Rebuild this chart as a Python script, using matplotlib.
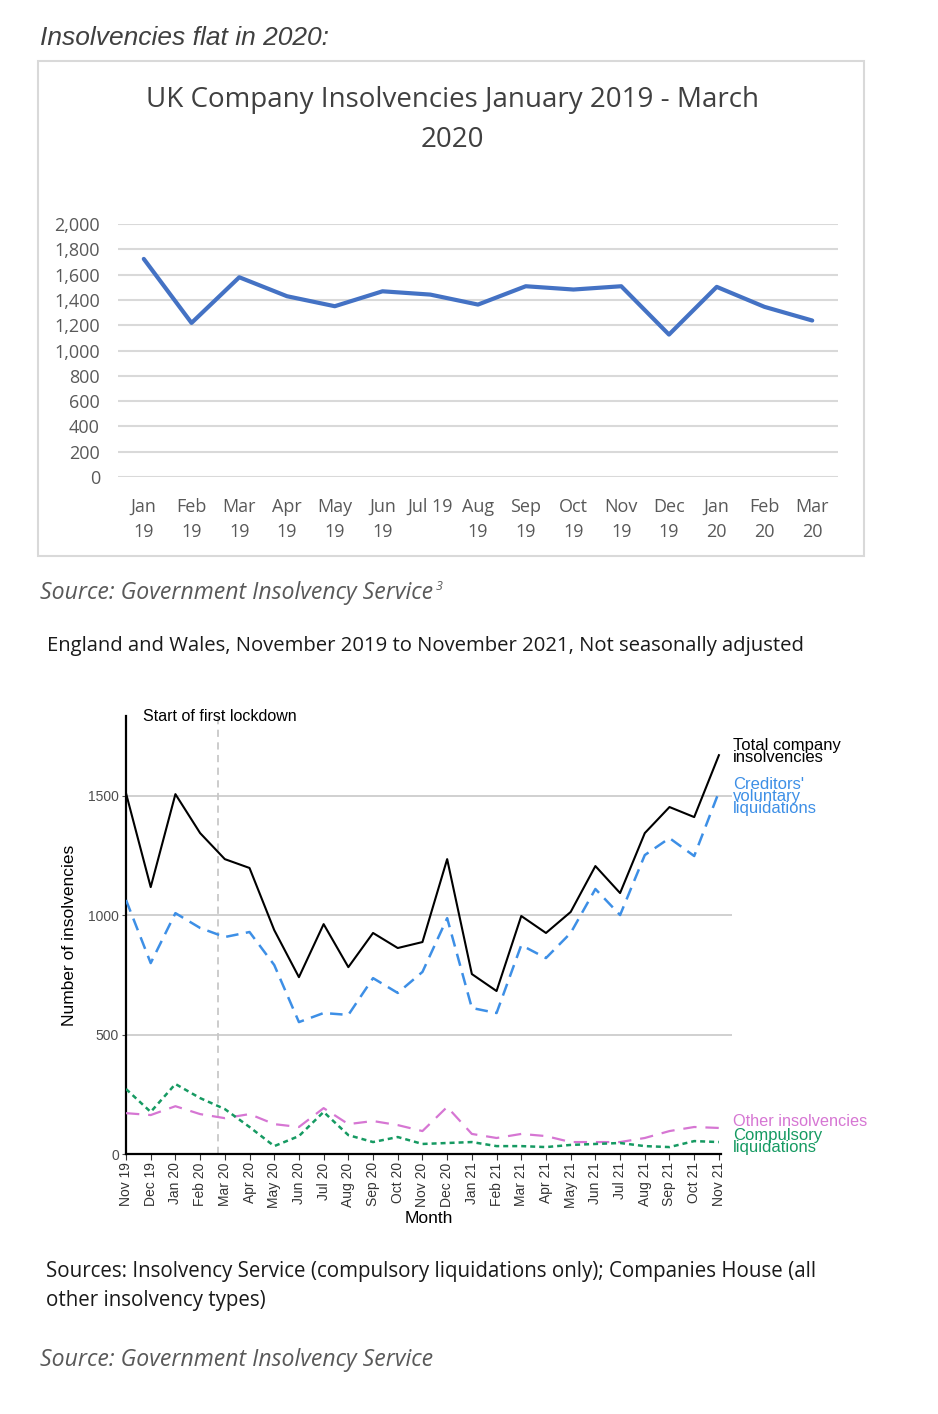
import matplotlib
matplotlib.use("Agg")
import matplotlib.pyplot as plt
from matplotlib.patches import Rectangle

# --- top chart data (UK company insolvencies, Jan 2019 - Mar 2020)
top_labels = ["Jan\n19", "Feb\n19", "Mar\n19", "Apr\n19", "May\n19", "Jun\n19", "Jul 19",
              "Aug\n19", "Sep\n19", "Oct\n19", "Nov\n19", "Dec\n19", "Jan\n20", "Feb\n20", "Mar\n20"]
top_values = [1724, 1218, 1579, 1429, 1350, 1468, 1442, 1363, 1508, 1482, 1508, 1126, 1503, 1345, 1237]

# --- bottom chart data (England and Wales, Nov 2019 - Nov 2021)
months = ["Nov 19", "Dec 19", "Jan 20", "Feb 20", "Mar 20", "Apr 20", "May 20", "Jun 20", "Jul 20",
          "Aug 20", "Sep 20", "Oct 20", "Nov 20", "Dec 20", "Jan 21", "Feb 21", "Mar 21", "Apr 21",
          "May 21", "Jun 21", "Jul 21", "Aug 21", "Sep 21", "Oct 21", "Nov 21"]
total = [1510, 1117, 1506, 1343, 1234, 1197, 937, 740, 962, 782, 925, 862, 887, 1234,
         753, 682, 996, 925, 1013, 1205, 1092, 1343, 1452, 1410, 1669]
cvl = [1063, 799, 1008, 946, 908, 929, 791, 552, 590, 582, 736, 674, 762, 987,
       611, 590, 874, 820, 925, 1109, 1000, 1251, 1322, 1247, 1515]
other = [171, 163, 200, 167, 150, 167, 125, 113, 192, 125, 138, 121, 96, 197,
         84, 67, 84, 75, 50, 50, 50, 67, 96, 113, 109]
compulsory = [272, 176, 293, 234, 188, 113, 33, 75, 176, 79, 50, 71, 42, 46,
              50, 33, 33, 29, 38, 42, 46, 33, 29, 54, 50]
lockdown_pos = 3.74

W, H = 938, 1414


def fx(px):
    return px / W


def fy(py):
    return 1 - py / H


fig = plt.figure(figsize=(W / 100, H / 100), dpi=100)
fig.patch.set_facecolor("white")

body = "Open Sans"
arial = "Liberation Sans"

fig.text(fx(40), fy(38), "Insolvencies flat in 2020:", family=arial, style="italic",
         fontsize=19, color="#404040", va="center", ha="left")

# frame around top chart
fig.add_artist(Rectangle((fx(38), fy(556)), fx(864) - fx(38), fy(61) - fy(556),
                         transform=fig.transFigure, fill=False, edgecolor="#d9d9d9", lw=1.5))

fig.text(fx(452), fy(120), "UK Company Insolvencies January 2019 - March\n2020", family=body,
         fontsize=20, color="#404040", ha="center", va="center", linespacing=1.55)

ax1 = fig.add_axes([fx(118), fy(477), fx(838) - fx(118), fy(224) - fy(477)])
x1 = list(range(len(top_values)))
ax1.plot(x1, top_values, color="#4472C4", lw=3, solid_capstyle="round", zorder=3)
ax1.set_ylim(0, 2000)
ax1.set_xlim(-0.54, len(top_values) - 0.46)
ax1.set_yticks(range(0, 2001, 200))
ax1.set_yticklabels(["{:,}".format(v) for v in range(0, 2001, 200)])
ax1.set_xticks(x1)
ax1.set_xticklabels(top_labels, linespacing=1.52)
for s in ax1.spines.values():
    s.set_visible(False)
ax1.grid(axis="y", color="#d9d9d9", lw=1.5)
ax1.set_axisbelow(True)
ax1.tick_params(axis="both", length=0, labelsize=13, labelcolor="#595959")
ax1.tick_params(axis="x", pad=15)
ax1.tick_params(axis="y", pad=13)
for lab in ax1.get_xticklabels() + ax1.get_yticklabels():
    lab.set_family(body)

fig.text(fx(40), fy(593), "Source: Government Insolvency Service", family=body, style="italic",
         fontsize=16.6, color="#595959", va="center", ha="left")
fig.text(fx(436), fy(586), "3", family=body, style="italic", fontsize=9,
         color="#595959", va="center", ha="left")

fig.text(fx(47), fy(646), "England and Wales, November 2019 to November 2021, Not seasonally adjusted",
         family=body, fontsize=14.6, color="#1a1a1a", va="center", ha="left")

# --- bottom chart
ax2 = fig.add_axes([fx(126), fy(1154), fx(732) - fx(126), fy(716) - fy(1154)])
x2 = list(range(len(months)))
ax2.set_xlim(0, 24.53)
ax2.set_ylim(0, 1833)
ax2.axhline(500, color="#d0d0d0", lw=1.4, zorder=0)
ax2.axhline(1000, color="#d0d0d0", lw=1.4, zorder=0)
ax2.axhline(1500, color="#d0d0d0", lw=1.4, zorder=0)
ax2.axvline(lockdown_pos, color="#c8c8c8", lw=1.3, linestyle=(0, (4, 3)), zorder=1)

ax2.plot(x2, total, color="black", lw=1.5, zorder=4)
ax2.plot(x2, cvl, color="#3d8fe6", lw=1.8, linestyle=(0, (5, 3)), zorder=3)
ax2.plot(x2, other, color="#d676d3", lw=1.6, linestyle=(0, (6, 4)), zorder=3)
ax2.plot(x2, compulsory, color="#169a62", lw=1.8, linestyle=(0, (2, 1.6)), zorder=3)

for side in ["top", "right"]:
    ax2.spines[side].set_visible(False)
ax2.spines["left"].set_linewidth(1.6)
ax2.spines["bottom"].set_linewidth(1.6)
ax2.spines["bottom"].set_bounds(0, 24.1)
ax2.set_yticks([0, 500, 1000, 1500])
ax2.set_xticks(x2)
ax2.set_xticklabels(months, rotation=90, family=arial)
for lab in ax2.get_yticklabels():
    lab.set_family(arial)
ax2.tick_params(axis="y", labelsize=10, labelcolor="#4d4d4d", length=3, color="#4d4d4d", pad=2)
ax2.tick_params(axis="x", labelsize=10, labelcolor="#333333", length=4, color="#333333", pad=2)
ax2.set_ylabel("Number of insolvencies", family=arial, fontsize=12.5, labelpad=8)
ax2.set_xlabel("Month", family=arial, fontsize=12.5, labelpad=2)

ax2.text(0.7, 1833, "Start of first lockdown", family=arial, fontsize=11.5, color="black",
         va="center", ha="left")

lab_x = 24.57
ax2.text(lab_x, 1686, "Total company\ninsolvencies", family=arial, fontsize=12, color="black",
         va="center", ha="left", linespacing=0.75, clip_on=False)
ax2.text(lab_x, 1498, "Creditors'\nvoluntary\nliquidations", family=arial, fontsize=12,
         color="#3d8fe6", va="center", ha="left", linespacing=0.75, clip_on=False)
ax2.text(lab_x, 134, "Other insolvencies", family=arial, fontsize=11.7, color="#d676d3",
         va="center", ha="left", clip_on=False)
ax2.text(lab_x, 54, "Compulsory\nliquidations", family=arial, fontsize=12, color="#169a62",
         va="center", ha="left", linespacing=0.75, clip_on=False)

fig.text(fx(46), fy(1286), "Sources: Insolvency Service (compulsory liquidations only); Companies House (all\nother insolvency types)",
         family=body, fontsize=14.8, color="#1a1a1a", va="center", ha="left", linespacing=1.5)
fig.text(fx(40), fy(1360), "Source: Government Insolvency Service", family=body, style="italic",
         fontsize=16.6, color="#595959", va="center", ha="left")

fig.savefig("out.png", dpi=100)
